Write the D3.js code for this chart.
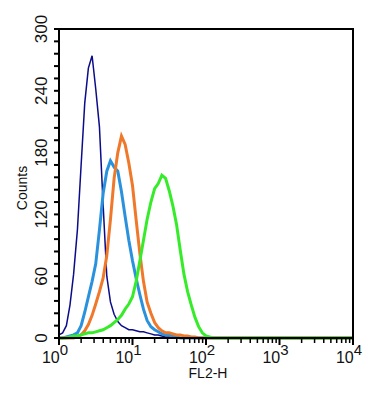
<!DOCTYPE html>
<html>
<head>
<meta charset="utf-8">
<script src="https://cdn.jsdelivr.net/npm/d3@7"></script>
<style>
  body { margin: 0; background: #fff; }
  svg text { font-family: "Liberation Sans", Arial, Helvetica, sans-serif; fill: #111; }
</style>
</head>
<body>
<div id="chart"></div>
<script>
// FL2-H channel bins (0.05 decade steps), last point is the end of the scale
const bins = [1.00, 1.12, 1.26, 1.41, 1.58, 1.78, 2.00, 2.24, 2.51, 2.82,
              3.16, 3.55, 3.98, 4.47, 5.01, 5.62, 6.31, 7.08, 7.94, 8.91,
              10.0, 11.2, 12.6, 14.1, 15.8, 17.8, 20.0, 22.4, 25.1, 28.2,
              31.6, 35.5, 39.8, 44.7, 50.1, 56.2, 63.1, 70.8, 79.4, 89.1,
              100, 112, 126, 10000];

// counts per histogram, one value per bin
const navyCounts   = [3, 5, 12, 32, 62, 105, 168, 228, 262, 274,
                      242, 205, 130, 60, 35, 23, 16, 12, 10, 8,
                      8, 7, 6, 6, 5, 4, 3, 3, 2, 1,
                      1, 0, 0, 0, 0, 0, 0, 0, 0, 0,
                      0, 0, 0, 0];
const blueCounts   = [0, 0, 1, 2, 3, 5, 12, 25, 40, 55,
                      72, 105, 140, 162, 172, 166, 162, 142, 118, 95,
                      75, 58, 42, 28, 17, 11, 8, 6, 4, 3,
                      3, 2, 1, 0, 0, 0, 0, 0, 0, 0,
                      0, 0, 0, 0];
const orangeCounts = [0, 0, 0, 0, 0, 1, 3, 7, 13, 22,
                      33, 45, 58, 80, 115, 155, 180, 196, 188, 170,
                      148, 115, 82, 55, 35, 24, 15, 10, 7, 5,
                      5, 4, 3, 3, 2, 2, 1, 1, 0, 0,
                      0, 0, 0, 0];
const greenCounts  = [0, 0, 0, 1, 2, 2, 3, 4, 5, 5,
                      6, 7, 8, 10, 12, 15, 18, 22, 28, 33,
                      40, 55, 75, 95, 115, 132, 145, 150, 158, 155,
                      143, 128, 110, 85, 62, 45, 32, 20, 11, 5,
                      2, 1, 0, 0];

const series = [
  { name: "navy",   counts: navyCounts,   color: "#0c0c8a", width: 1.5 },
  { name: "blue",   counts: blueCounts,   color: "#2a92dc", width: 3 },
  { name: "orange", counts: orangeCounts, color: "#f0782a", width: 3 },
  { name: "green",  counts: greenCounts,  color: "#36ec2a", width: 3 }
];

const yMajor = [0, 60, 120, 180, 240, 300];
const xMajor = [1, 10, 100, 1000, 10000];

const width = 388, height = 401;
const margin = { top: 29, right: 35, bottom: 63, left: 59 };

const svg = d3.select("#chart").append("svg")
    .attr("width", width)
    .attr("height", height);

const x = d3.scaleLog()
    .domain([1, 10000])
    .range([margin.left, width - margin.right]);

const y = d3.scaleLinear()
    .domain([0, 300])
    .range([height - margin.bottom, margin.top]);

// histograms
const line = d3.line()
    .x((d, i) => x(bins[i]))
    .y(d => y(d));

series.forEach(s => {
  svg.append("path")
      .attr("d", line(s.counts))
      .attr("fill", "none")
      .attr("stroke", s.color)
      .attr("stroke-width", s.width)
      .attr("stroke-linejoin", "miter");
});

// frame
svg.append("rect")
    .attr("x", margin.left)
    .attr("y", margin.top)
    .attr("width", width - margin.left - margin.right)
    .attr("height", height - margin.top - margin.bottom)
    .attr("fill", "none")
    .attr("stroke", "#000")
    .attr("stroke-width", 2);

// y ticks: major every 60, minor every 12
const yTicks = d3.range(0, 301, 12);
svg.append("g").selectAll("line")
    .data(yTicks)
    .join("line")
    .attr("x1", margin.left - 5)
    .attr("x2", margin.left)
    .attr("y1", d => y(d))
    .attr("y2", d => y(d))
    .attr("stroke", "#000")
    .attr("stroke-width", 2);

svg.append("g").selectAll("text")
    .data(yMajor)
    .join("text")
    .attr("transform", d => `translate(${margin.left - 12},${y(d)}) rotate(-90)`)
    .attr("text-anchor", "middle")
    .attr("font-size", 17)
    .text(d => d);

// x ticks: decades plus 2..9 minor ticks
const xMinor = [];
[1, 10, 100, 1000].forEach(dec => {
  for (let k = 2; k <= 9; k++) xMinor.push(dec * k);
});
const xAxisY = height - margin.bottom;

svg.append("g").selectAll("line.minor")
    .data(xMinor)
    .join("line")
    .attr("x1", d => x(d))
    .attr("x2", d => x(d))
    .attr("y1", xAxisY)
    .attr("y2", xAxisY + 5)
    .attr("stroke", "#000")
    .attr("stroke-width", 1.5);

svg.append("g").selectAll("line.major")
    .data(xMajor)
    .join("line")
    .attr("x1", d => x(d))
    .attr("x2", d => x(d))
    .attr("y1", xAxisY)
    .attr("y2", xAxisY + 7)
    .attr("stroke", "#000")
    .attr("stroke-width", 2);

const xl = svg.append("g").selectAll("text")
    .data(xMajor)
    .join("text")
    .attr("x", d => x(d) - 4)
    .attr("y", xAxisY + 25)
    .attr("text-anchor", "middle")
    .attr("font-size", 16);
xl.append("tspan").text("10");
xl.append("tspan")
    .attr("dy", -8)
    .attr("font-size", 15)
    .text(d => Math.round(Math.log10(d)));

// axis titles
svg.append("text")
    .attr("x", x(100) + 2)
    .attr("y", xAxisY + 40)
    .attr("text-anchor", "middle")
    .attr("font-size", 14)
    .text("FL2-H");

svg.append("text")
    .attr("transform", `translate(27,188) rotate(-90)`)
    .attr("text-anchor", "middle")
    .attr("font-size", 14)
    .text("Counts");
</script>
</body>
</html>
